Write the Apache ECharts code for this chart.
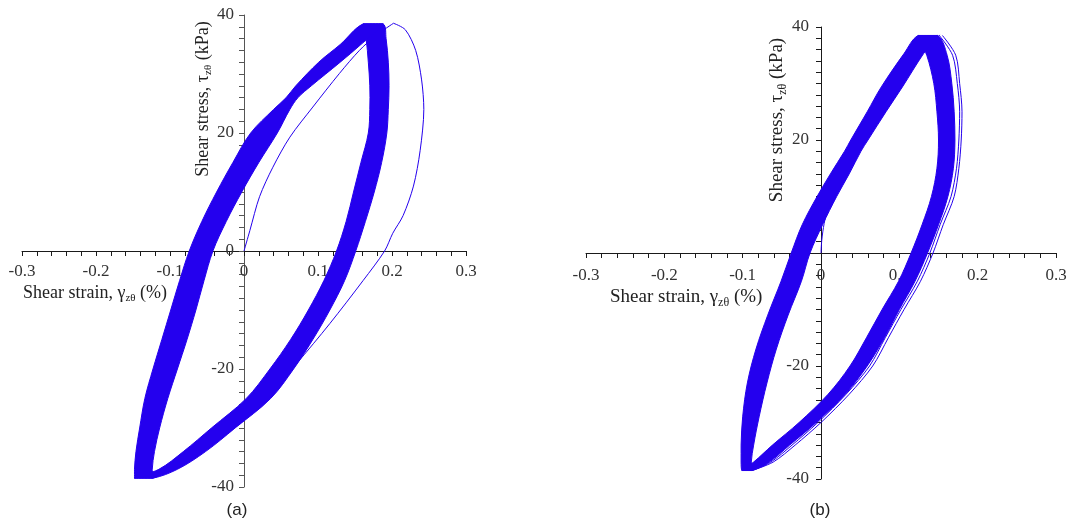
<!DOCTYPE html>
<html>
<head>
<meta charset="utf-8">
<script src="https://cdn.jsdelivr.net/npm/echarts@6/dist/echarts.min.js"></script>
<style>html,body{margin:0;padding:0;background:#fff}#chart{width:1070px;height:520px}</style>
</head>
<body>
<div id="chart"></div>
<script>
// ---------------- tick labels ----------------
const xTickLabels = ['-0.3', '-0.2', '-0.1', '0', '0.1', '0.2', '0.3'];
const yTickLabels = ['-40', '-20', '0', '20', '40'];

// ---------------- panel (a) ----------------
// unloading branch band (shear stress levels, kPa) : early-cycle edge / late-cycle edge (strain, %)
const tauUnloadA   = [38.5, 36, 32, 28, 24, 20, 15, 10, 5, 0, -5, -10, -15, -20, -25, -30, -34, -37, -38.5];
const unloadEarlyA = [0.188, 0.192, 0.195, 0.196, 0.195, 0.193, 0.186, 0.176, 0.164, 0.151, 0.136, 0.116, 0.093, 0.067, 0.036, -0.012, -0.052, -0.090, -0.123];
const unloadLateA  = [0.161, 0.165, 0.168, 0.170, 0.170, 0.168, 0.158, 0.148, 0.138, 0.125, 0.108, 0.087, 0.063, 0.035, 0.003, -0.044, -0.082, -0.115, -0.148];
// loading branch band
const tauLoadA   = [-38.5, -37, -34, -30, -25, -20, -15, -10, -5, 0, 5, 10, 15, 20, 24, 26, 28, 32, 35, 38.5];
const loadLateA  = [-0.148, -0.148, -0.146, -0.141, -0.134, -0.123, -0.111, -0.099, -0.087, -0.074, -0.057, -0.037, -0.015, 0.009, 0.040, 0.057, 0.070, 0.101, 0.130, 0.161];
const loadEarlyA = [-0.123, -0.124, -0.121, -0.114, -0.103, -0.090, -0.077, -0.065, -0.054, -0.042, -0.024, -0.003, 0.020, 0.045, 0.062, 0.073, 0.091, 0.130, 0.158, 0.188];
// first cycle: initial loading and first unloading
const tauInitA  = [0, 3.5, 9.2, 14.2, 19.3, 24.4, 30.1, 34, 36.5, 38.6];
const strainInitA = [0, 0.008, 0.021, 0.039, 0.062, 0.093, 0.129, 0.156, 0.178, 0.202];
const tauFirstA = [38.6, 37.5, 34, 29, 24, 17, 11, 6, 3, 0, -5, -12.3, -19.1, -24.2, -28.7, -32.1, -34.3, -36.6, -38.5];
const strainFirstA = [0.202, 0.218, 0.232, 0.240, 0.243, 0.238, 0.229, 0.215, 0.201, 0.190, 0.161, 0.116, 0.071, 0.035, 0.000, -0.037, -0.064, -0.087, -0.123];

// ---------------- panel (b) ----------------
const tauUnloadB   = [38.5, 35, 30, 25, 20, 15, 10, 5, 0, -5, -10, -15, -20, -25, -30, -34, -37, -38.5];
const unloadEarlyB = [0.149, 0.161, 0.167, 0.170, 0.171, 0.169, 0.162, 0.150, 0.136, 0.120, 0.100, 0.081, 0.059, 0.031, -0.006, -0.040, -0.066, -0.088];
const unloadLateB  = [0.124, 0.135, 0.144, 0.148, 0.150, 0.148, 0.141, 0.129, 0.115, 0.099, 0.078, 0.058, 0.037, 0.009, -0.028, -0.062, -0.086, -0.101];
const unloadFirstB = [0.155, 0.172, 0.177, 0.180, 0.179, 0.176, 0.170, 0.156, 0.143, 0.127, 0.106, 0.086, 0.066, 0.036, 0.000, -0.033, -0.061, -0.088];
const unloadSecondB = [0.151, 0.168, 0.174, 0.177, 0.176, 0.173, 0.166, 0.152, 0.139, 0.123, 0.102, 0.082, 0.062, 0.032, -0.004, -0.037, -0.064, -0.088];
const tauLoadB   = [-38.5, -37, -34, -29, -23, -17, -11, -5, 0, 5, 10, 14, 18, 20, 25, 29.4, 35.3, 38.5];
const loadLateB  = [-0.101, -0.102, -0.102, -0.100, -0.094, -0.083, -0.068, -0.051, -0.038, -0.024, -0.005, 0.012, 0.030, 0.038, 0.059, 0.077, 0.106, 0.124];
const loadEarlyB = [-0.088, -0.089, -0.086, -0.079, -0.069, -0.057, -0.042, -0.025, -0.014, 0.002, 0.020, 0.036, 0.051, 0.060, 0.083, 0.104, 0.131, 0.149];
const tauInitB    = [0, 2.3, 5.2, 7.6, 9.3, 14, 20, 25, 30, 35, 38.6];
const strainInitB = [0, 0.001, 0.004, 0.0085, 0.015, 0.033, 0.056, 0.078, 0.101, 0.127, 0.152];

// ---------------- rendering ----------------
const BLUE = '#2400ee';
const SERIF = 'Liberation Serif';
const chart = echarts.init(document.getElementById('chart'), null, {renderer: 'canvas'});

function zip(xs, ys) { return xs.map((x, i) => [x, ys[i]]); }

function bandItem(tauA, xA, tauB, xB) {
  return function (params, api) {
    const pts = tauA.map((t, i) => api.coord([xA[i], t]))
      .concat(tauB.map((t, i) => api.coord([xB[i], t])).reverse());
    let x0 = Infinity, y0 = Infinity, x1 = -Infinity, y1 = -Infinity;
    pts.forEach(p => { x0 = Math.min(x0, p[0]); y0 = Math.min(y0, p[1]); x1 = Math.max(x1, p[0]); y1 = Math.max(y1, p[1]); });
    return {type: 'polygon',
            shape: {points: pts, smooth: 0.35, smoothConstraint: [[x0, y0], [x1, y1]]},
            style: {fill: BLUE, stroke: BLUE, lineWidth: 1}};
  };
}

function bandSeries(idx, tauA, xA, tauB, xB) {
  return {type: 'custom', coordinateSystem: 'cartesian2d', xAxisIndex: idx, yAxisIndex: idx,
          data: [[0, 0]], silent: true, z: 2, renderItem: bandItem(tauA, xA, tauB, xB)};
}

function lineSeries(idx, xs, ts) {
  return {type: 'line', xAxisIndex: idx, yAxisIndex: idx, data: zip(xs, ts), symbol: 'none',
          smooth: 0.3, silent: true, z: 3, lineStyle: {color: BLUE, width: 1}};
}

function xAxis(idx, margin, offset) {
  return {type: 'value', gridIndex: idx, position: 'bottom', offset: offset,
    min: -0.3, max: 0.3, interval: 0.1,
    axisLine: {onZero: false, lineStyle: {color: '#1a1a1a', width: 1}},
    axisTick: {show: true, length: 5, lineStyle: {color: '#1a1a1a'}},
    minorTick: {show: true, splitNumber: 5, length: 5, lineStyle: {color: '#1a1a1a'}},
    splitLine: {show: false}, minorSplitLine: {show: false},
    axisLabel: {margin: margin, fontFamily: SERIF, fontSize: 17, color: '#333', hideOverlap: false,
      formatter: v => xTickLabels[Math.round((v + 0.3) / 0.1)]}};
}
function yAxis(idx, margin, color, offset) {
  return {type: 'value', gridIndex: idx, position: 'left', offset: offset,
    min: -40, max: 40, interval: 20,
    axisLine: {onZero: false, lineStyle: {color: color, width: 1}},
    axisTick: {show: true, length: 5, lineStyle: {color: color}},
    minorTick: {show: true, splitNumber: 10, length: 5, lineStyle: {color: color}},
    splitLine: {show: false}, minorSplitLine: {show: false},
    axisLabel: {margin: margin, fontFamily: SERIF, fontSize: 17, color: '#333', hideOverlap: false,
      formatter: v => yTickLabels[Math.round((v + 40) / 20)]}};
}

function richName(main, sub, tail, size) {
  return {
    text: '{n|' + main + '}{s|' + sub + '}{n|' + tail + '}',
    rich: {
      n: {fontFamily: SERIF, fontSize: size, lineHeight: size + 4, fill: '#222', color: '#222'},
      s: {fontFamily: SERIF, fontSize: Math.round(size * 0.62), lineHeight: Math.round(size * 0.62),
          verticalAlign: 'bottom', fill: '#222', color: '#222'}
    }
  };
}

function nameText(x, y, rot, main, sub, tail, size, align) {
  const st = richName(main, sub, tail, size);
  st.align = align; st.textAlign = align;
  st.verticalAlign = 'middle'; st.textVerticalAlign = 'middle';
  return {type: 'text', x: x, y: y, rotation: rot, silent: true, style: st};
}

const option = {
  animation: false,
  backgroundColor: '#fff',
  grid: [
    {left: 22, top: 15, width: 444, height: 472, containLabel: false, outerBoundsMode: 'none'},
    {left: 586, top: 27, width: 470, height: 452, containLabel: false, outerBoundsMode: 'none'}
  ],
  xAxis: [xAxis(0, 12, -236), xAxis(1, 14, -226)],
  yAxis: [yAxis(0, 10, '#555', -222), yAxis(1, 12, '#1a1a1a', -235)],
  series: [
    bandSeries(0, tauUnloadA, unloadEarlyA, tauUnloadA, unloadLateA),
    bandSeries(0, tauLoadA, loadLateA, tauLoadA, loadEarlyA),
    lineSeries(0, strainInitA, tauInitA),
    lineSeries(0, strainFirstA, tauFirstA),
    bandSeries(1, tauUnloadB, unloadEarlyB, tauUnloadB, unloadLateB),
    bandSeries(1, tauLoadB, loadLateB, tauLoadB, loadEarlyB),
    lineSeries(1, strainInitB, tauInitB),
    lineSeries(1, unloadFirstB, tauUnloadB),
    lineSeries(1, unloadSecondB, tauUnloadB)
  ],
  graphic: [
    nameText(23, 293, 0, 'Shear strain, γ', 'zθ', ' (%)', 18, 'left'),
    nameText(203, 99, Math.PI / 2, 'Shear stress, τ', 'zθ', ' (kPa)', 18, 'center'),
    nameText(610, 297, 0, 'Shear strain, γ', 'zθ', ' (%)', 19, 'left'),
    nameText(777, 120, Math.PI / 2, 'Shear stress, τ', 'zθ', ' (kPa)', 19, 'center'),
    {type: 'text', x: 237, y: 510, silent: true,
     style: {text: '(a)', fontFamily: 'Liberation Sans', fontSize: 17, fill: '#222',
             align: 'center', verticalAlign: 'middle', textAlign: 'center', textVerticalAlign: 'middle'}},
    {type: 'text', x: 820, y: 510, silent: true,
     style: {text: '(b)', fontFamily: 'Liberation Sans', fontSize: 17, fill: '#222',
             align: 'center', verticalAlign: 'middle', textAlign: 'center', textVerticalAlign: 'middle'}}
  ]
};
chart.setOption(option);
</script>
</body>
</html>
